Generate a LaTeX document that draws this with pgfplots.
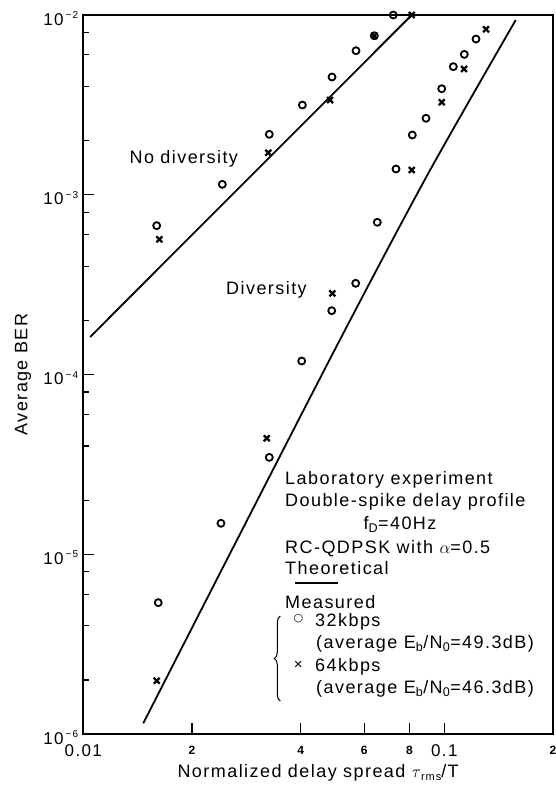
\documentclass[border=0pt]{standalone}
\usepackage{fontspec}
\setmainfont{Liberation Sans}[LetterSpace=8]
\newfontfamily\symfont{DejaVu Sans}
\usepackage{pgfplots}
\pgfplotsset{compat=1.18}
\usetikzlibrary{decorations.pathreplacing}
\newcommand{\ylab}[1]{\fontsize{17}{17}\selectfont 10\hspace{2pt}\raisebox{6.5pt}{\fontsize{10}{10}\selectfont −\hspace{1pt}#1}}
\newcommand{\bigt}[1]{\fontsize{17}{17}\selectfont #1}
\newcommand{\smt}[1]{\fontsize{12}{12}\selectfont\bfseries #1}
\begin{document}
\begin{tikzpicture}[x=1pt,y=1pt,font=\fontsize{18}{22}\selectfont]
\begin{axis}[
  at={(0pt,0pt)}, anchor=south west,
  scale only axis, width=469.7pt, height=719pt,
  xmode=log, ymode=log,
  xmin=0.01, xmax=0.2, ymin=1e-6, ymax=1e-2,
  axis line style={line width=1.6pt},
  tick align=inside,
  xtick pos=bottom, ytick pos=left,
  xtick={0.01,0.02,0.04,0.06,0.08,0.1,0.2},
  xticklabels={{\bigt{0.01}},{\smt{2}},{\smt{4}},{\smt{6}},{\smt{8}},{\bigt{0.1}},{\smt{2}}},
  xticklabel style={anchor=center, inner sep=0pt, yshift=-16.5pt},
  ytick={1e-6,1e-5,1e-4,1e-3,1e-2},
  yticklabels={{\ylab{6}},{\ylab{5}},{\ylab{4}},{\ylab{3}},{\ylab{2}}},
  yticklabel style={anchor=base east, inner sep=0pt, xshift=-5pt, yshift=-10pt},
  minor ytick={2e-6,4e-6,6e-6,8e-6,2e-5,4e-5,6e-5,8e-5,2e-4,4e-4,6e-4,8e-4,2e-3,4e-3,6e-3,8e-3},
  major tick length=11pt, minor tick length=6pt,
  every tick/.style={line width=1.2pt, black},
  clip=false,
]
% theoretical: no diversity
\addplot[line width=1.8pt, no marks] coordinates {(0.01044,1.617e-4) (0.08123,1e-2)};
% theoretical: diversity
\addplot[line width=1.8pt, no marks, smooth] coordinates {(0.01466,1.147e-6) (0.02496,9.29e-6) (0.05164,1.590e-4) (0.0903,1.316e-3) (0.1577,9.38e-3)};
% measured no diversity, 32 kbps
\addplot[only marks, mark=o, mark size=3.5pt, mark options={line width=1.8pt, black}] coordinates {
(0.01597,6.73e-4) (0.02427,1.143e-3) (0.03275,2.169e-3) (0.04044,3.157e-3) (0.04886,4.52e-3) (0.05694,6.33e-3) (0.06400,7.67e-3) (0.07222,1e-2)};
% measured no diversity, 64 kbps
\addplot[only marks, mark=x, mark size=4.2pt, mark options={line width=2.3pt, black}] coordinates {
(0.01624,5.65e-4) (0.03254,1.714e-3) (0.04825,3.365e-3) (0.06400,7.67e-3) (0.08123,1e-2)};
% measured diversity, 32 kbps
\addplot[only marks, mark=o, mark size=3.5pt, mark options={line width=1.8pt, black}] coordinates {
(0.01613,5.38e-6) (0.02406,1.487e-5) (0.03275,3.46e-5) (0.04027,1.189e-4) (0.04877,2.265e-4) (0.05683,3.217e-4) (0.06522,7.03e-4) (0.07348,1.391e-3) (0.08153,2.150e-3) (0.08898,2.663e-3) (0.09835,3.89e-3) (0.1059,5.16e-3) (0.1136,6.04e-3) (0.1224,7.35e-3)};
% measured diversity, 64 kbps
\addplot[only marks, mark=x, mark size=4.2pt, mark options={line width=2.3pt, black}] coordinates {
(0.01597,1.98e-6) (0.03221,4.42e-5) (0.04896,2.83e-4) (0.08123,1.373e-3) (0.09835,3.27e-3) (0.1134,5.01e-3) (0.1305,8.33e-3)};
\end{axis}
% annotations
\node at (100.5,574.7) {No diversity};
\node at (183.2,444) {Diversity};
\node[anchor=base west] at (198.4,249.2) {Laboratory experiment};
\node[anchor=base west] at (198.4,227.5) {Double-spike delay profile};
\node[anchor=base west] at (276.7,204.2) {f\textsubscript{D}=40Hz};
\node[anchor=base west] at (198.4,180.8) {RC-QDPSK with $\alpha$=0.5};
\node[anchor=base west] at (198.4,159.2) {Theoretical};
\draw[line width=1.8pt] (211.7,150.7) -- (255,150.7);
\node[anchor=base west] at (198.4,125.8) {Measured};
\node[font=\symfont\fontsize{11}{11}\selectfont] at (215,115) {○};
\node[anchor=base west] at (228.4,107.5) {32kbps};
\node[anchor=base west] at (229.4,85.8) {(average E\textsubscript{b}/N\textsubscript{0}=49.3dB)};
\node[font=\fontsize{15}{15}\selectfont] at (215,69) {×};
\node[anchor=base west] at (228.4,62.5) {64kbps};
\node[anchor=base west] at (229.4,40.8) {(average E\textsubscript{b}/N\textsubscript{0}=46.3dB)};
\draw[line width=1pt, decorate, decoration={brace, amplitude=6pt}] (197,33) -- (197,118);
% axis labels
\node[anchor=base] at (234.85,-43.5) {Normalized delay spread $\tau$\raisebox{-0.35ex}{\fontsize{11}{11}\selectfont rms}/T};
\node[rotate=90, anchor=base] at (-55.8,359.5) {Average BER};
\pgfresetboundingbox
\path[use as bounding box] (-83.3,-58) rectangle (471.7,734);
\end{tikzpicture}
\end{document}
